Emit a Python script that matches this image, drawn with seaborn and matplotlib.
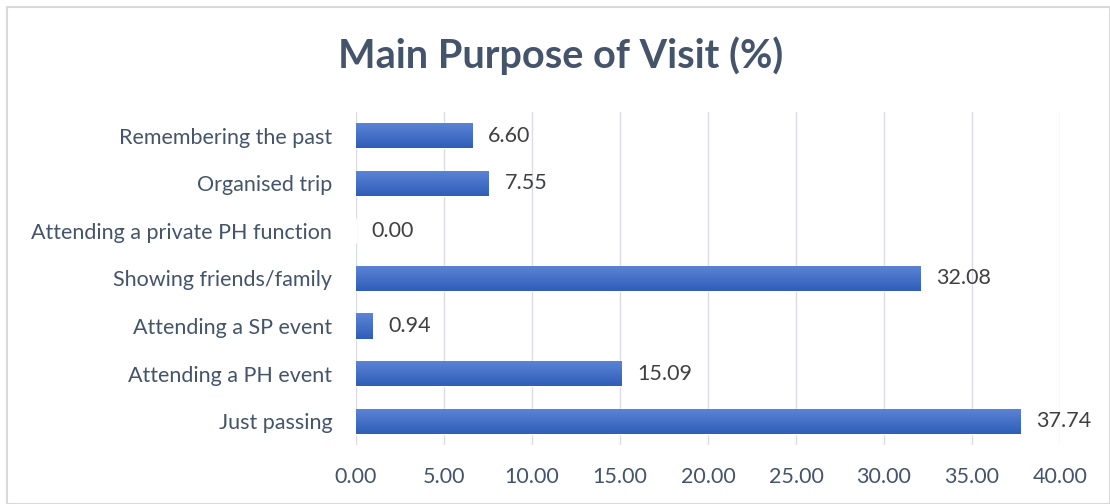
import matplotlib
matplotlib.use("Agg")
import matplotlib.pyplot as plt
import seaborn as sns
import pandas as pd
import numpy as np
from matplotlib.patches import Rectangle

# ---------------------------------------------------------------------------
# Data
# ---------------------------------------------------------------------------
purposes = [
    "Remembering the past",
    "Organised trip",
    "Attending a private PH function",
    "Showing friends/family",
    "Attending a SP event",
    "Attending a PH event",
    "Just passing",
]
percent = [6.60, 7.55, 0.00, 32.08, 0.94, 15.09, 37.74]
xticks = [0, 5, 10, 15, 20, 25, 30, 35, 40]

df = pd.DataFrame({"purpose": purposes, "percent": percent})

sns.set_theme(style="white")
plt.rcParams["font.family"] = ["Lato", "DejaVu Sans"]

TEXT = "#44546A"
LABEL = "#404040"
FS = 15.5

fig = plt.figure(figsize=(11.1, 5.04), dpi=100)
ax = fig.add_axes([0.3207, 0.117, 0.6342, 0.661])

sns.barplot(data=df, x="percent", y="purpose", orient="h", color="#4472C4",
            width=0.53, ax=ax, zorder=3)

# vertical gradient on each bar (lighter top, darker bottom)
grad = np.linspace(0, 1, 64).reshape(-1, 1)
cmap = matplotlib.colors.LinearSegmentedColormap.from_list(
    "bar", ["#5C85D6", "#2F5DB8"])
for p in ax.patches:
    x0, y0 = p.get_x(), p.get_y()
    w, h = p.get_width(), p.get_height()
    if w <= 0:
        continue
    im = ax.imshow(grad, cmap=cmap, aspect="auto", zorder=4,
                   extent=[x0, x0 + w, y0 + h, y0], origin="upper")
    im.set_clip_path(p)

for i, v in enumerate(percent):
    ax.text(v + 0.9, i, f"{v:.2f}", va="center", ha="left",
            fontsize=FS, color=LABEL, zorder=5)

ax.set_xlim(0, 40)
ax.set_ylim(len(purposes) - 0.5, -0.5)
ax.set_xticks(xticks)
ax.set_xticklabels([f"{t:.2f}" for t in xticks])
ax.grid(axis="x", color="#D9DCE3", lw=1, zorder=0)
ax.set_axisbelow(True)
ax.tick_params(axis="both", length=0, labelsize=FS, colors=TEXT)
ax.tick_params(axis="x", pad=16)
ax.tick_params(axis="y", pad=17)
ax.set_xlabel("")
ax.set_ylabel("")
for s in ax.spines.values():
    s.set_visible(False)

fig.text(0.505, 0.89, "Main Purpose of Visit (%)", ha="center", va="center",
         fontsize=28.5, fontweight="bold", color=TEXT)

fig.patches.append(Rectangle((7 / 1110, 0), 1 - 7 / 1110, 1 - 7 / 504,
                             transform=fig.transFigure, fill=False,
                             edgecolor="#D9D9D9", lw=1.5))

fig.savefig("out.png", dpi=100)
